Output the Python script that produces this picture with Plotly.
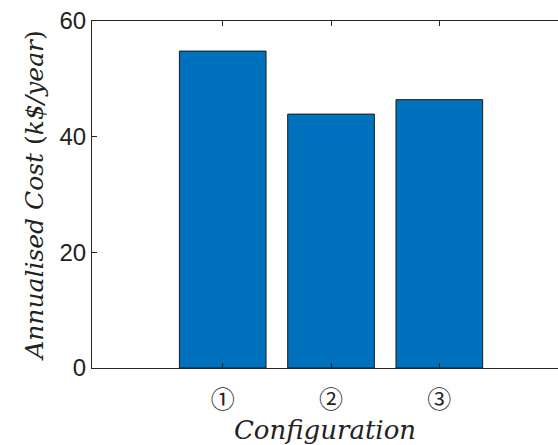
import plotly.graph_objects as go

configs = [1, 2, 3]
tick_labels = ["①", "②", "③"]
costs = [54.8, 43.9, 46.4]

fig = go.Figure()
fig.add_trace(go.Bar(
    x=configs, y=costs, width=0.8,
    marker=dict(color="#0072BD", line=dict(color="#1a1a1a", width=1)),
))

axcol = "#262626"
fig.update_layout(
    width=558, height=445,
    margin=dict(l=92, r=0, t=21, b=77, autoexpand=False),
    plot_bgcolor="white", paper_bgcolor="white",
    showlegend=False,
    font=dict(family="Liberation Sans, Arial, sans-serif", color=axcol),
)
fig.update_xaxes(
    range=[-0.207, 4.096], automargin=False,
    tickmode="array", tickvals=configs, ticktext=tick_labels,
    ticks="inside", ticklen=5, tickcolor=axcol, tickwidth=1,
    showline=True, linecolor=axcol, linewidth=1, mirror="allticks",
    showgrid=False, zeroline=False,
    ticklabelstandoff=10,
    tickfont=dict(family="Noto Sans CJK JP, DejaVu Serif, serif", size=24, color="#222"),
    title=dict(text="<i>Configuration</i>", standoff=14,
               font=dict(family="DejaVu Serif, serif", size=26, color="#222")),
)
fig.update_yaxes(
    range=[0, 60], tickvals=[0, 20, 40, 60], automargin=False,
    ticks="inside", ticklen=5, tickcolor=axcol, tickwidth=1,
    showline=True, linecolor=axcol, linewidth=1,
    showgrid=False, zeroline=False,
    tickfont=dict(size=24, color="#222"),
    title=dict(text="<i>Annualised Cost</i> (<i>k$/year</i>)", standoff=8,
               font=dict(family="DejaVu Serif, serif", size=25, color="#222")),
)
fig.write_html("out.html")
